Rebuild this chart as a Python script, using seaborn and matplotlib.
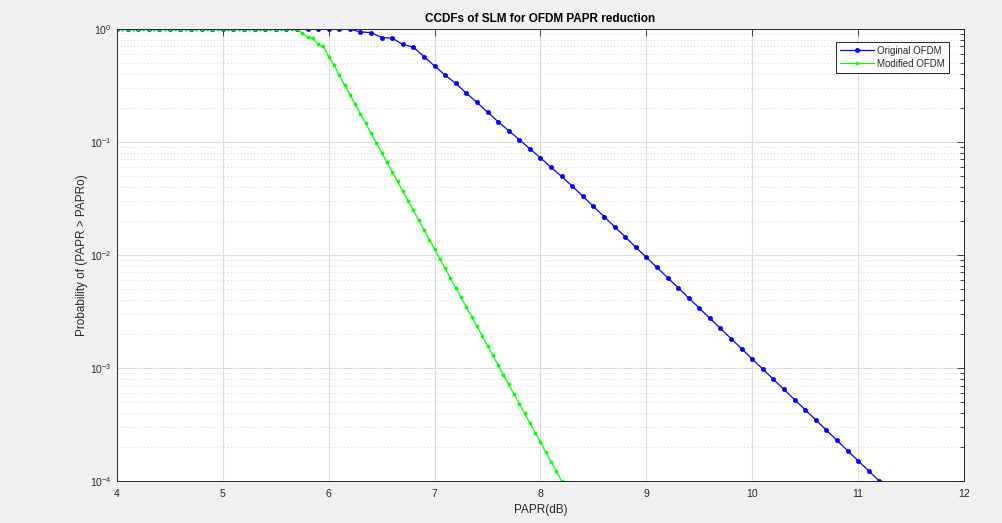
import numpy as np
import pandas as pd
import matplotlib
matplotlib.use("Agg")
import matplotlib.pyplot as plt
import seaborn as sns
from matplotlib.ticker import LogLocator, NullFormatter, FixedLocator

# ---------------- data ----------------
x_orig_start, x_orig_stop, x_orig_step = 4.0, 11.2, 0.1
x_mod_start, x_mod_stop, x_mod_step = 4.0, 8.2, 0.05

ccdf_original = [
    1.0, 1.0, 1.0, 1.0, 1.0, 1.0, 1.0, 1.0, 1.0, 1.0,
    1.0, 1.0, 1.0, 1.0, 1.0, 1.0, 1.0, 1.0, 1.0, 1.0,
    1.0, 1.0, 1.0,
    0.94, 0.93, 0.84, 0.83, 0.73, 0.69, 0.57, 0.47, 0.39, 0.33, 0.27,
    0.224, 0.184, 0.151, 0.126, 0.105, 0.0871, 0.0724, 0.0596, 0.0495, 0.0407,
    0.0331, 0.0269, 0.0219, 0.0178, 0.0145, 0.0117, 0.00955, 0.00776, 0.00631, 0.00513,
    0.00417, 0.00339, 0.00275, 0.00224, 0.00182, 0.00148, 0.00120, 0.000977, 0.000794, 0.000646,
    0.000525, 0.000427, 0.000347, 0.000282, 0.000229, 0.000186, 0.000151, 0.000123, 0.0001,
]

ccdf_modified = [
    1.0, 1.0, 1.0, 1.0, 1.0, 1.0, 1.0, 1.0, 1.0, 1.0,
    1.0, 1.0, 1.0, 1.0, 1.0, 1.0, 1.0, 1.0, 1.0, 1.0,
    1.0, 1.0, 1.0, 1.0, 1.0, 1.0, 1.0, 1.0, 1.0, 1.0,
    1.0, 1.0, 1.0, 1.0, 1.0,
    0.92, 0.85, 0.83, 0.73, 0.70, 0.57, 0.48, 0.39,
    0.320, 0.263, 0.216, 0.177, 0.146, 0.120, 0.0983, 0.0807, 0.0663, 0.0545,
    0.0447, 0.0367, 0.0302, 0.0248, 0.0203, 0.0167, 0.0137, 0.0113, 0.00926, 0.00760,
    0.00624, 0.00513, 0.00421, 0.00346, 0.00284, 0.00233, 0.00192, 0.00157, 0.00129, 0.00106,
    0.000872, 0.000716, 0.000588, 0.000483, 0.000397, 0.000326, 0.000268, 0.000220, 0.000180, 0.000148,
    0.000122, 0.0001,
]

series_labels = ["Original OFDM", "Modified OFDM"]
x_ticks = [4, 5, 6, 7, 8, 9, 10, 11, 12]
y_ticks = [1e-4, 1e-3, 1e-2, 1e-1, 1e0]
title_text = "CCDFs of SLM for OFDM PAPR reduction"
xlabel_text = "PAPR(dB)"
ylabel_text = "Probability of (PAPR > PAPRo)"

x_orig = np.round(np.arange(len(ccdf_original)) * x_orig_step + x_orig_start, 3)
x_mod = np.round(np.arange(len(ccdf_modified)) * x_mod_step + x_mod_start, 3)

df_orig = pd.DataFrame({"papr": x_orig, "ccdf": ccdf_original})
df_mod = pd.DataFrame({"papr": x_mod, "ccdf": ccdf_modified})

# ---------------- style ----------------
sns.set_style("white")
plt.rcParams["font.family"] = ["Liberation Sans", "DejaVu Sans"]
plt.rcParams["mathtext.fontset"] = "custom"
plt.rcParams["mathtext.rm"] = "Liberation Sans"
plt.rcParams["mathtext.it"] = "Liberation Sans"
plt.rcParams["axes.unicode_minus"] = False

axcol = "#262626"

fig = plt.figure(figsize=(10.03, 5.23), dpi=100, facecolor="#f0f0f0")
ax = fig.add_axes([0.1166, 0.0803, 0.8445, 0.8643])
ax.set_facecolor("white")

sns.lineplot(data=df_orig, x="papr", y="ccdf", ax=ax, color=(0, 0, 1),
             marker="o", markersize=3.0, markeredgewidth=0.5, markeredgecolor=(0, 0, 1),
             linewidth=0.9, label=series_labels[0], sort=False, estimator=None)
sns.lineplot(data=df_mod, x="papr", y="ccdf", ax=ax, color=(0, 1, 0),
             marker="o", markersize=2.2, markeredgewidth=0.5, markeredgecolor=(0, 1, 0),
             linewidth=0.9, label=series_labels[1], sort=False, estimator=None)

ax.set_yscale("log")
ax.set_xlim(4, 12)
ax.set_ylim(1e-4, 1)

ax.xaxis.set_major_locator(FixedLocator(x_ticks))
ax.yaxis.set_major_locator(FixedLocator(y_ticks))
ax.yaxis.set_minor_locator(LogLocator(base=10, subs=np.arange(2, 10), numticks=20))
ax.yaxis.set_minor_formatter(NullFormatter())

ax.grid(True, which="major", axis="both", color="#dcdcdc", linewidth=0.8, linestyle="-")
ax.grid(True, which="minor", axis="y", color="#c8c8c8", linewidth=0.6, linestyle=(0, (1, 3)))
ax.set_axisbelow(True)

ax.tick_params(which="both", direction="in", top=True, right=True,
               colors=axcol, labelsize=7.5, width=0.6)
ax.tick_params(which="major", length=5)
ax.tick_params(axis="x", which="major", pad=6)
ax.tick_params(axis="y", which="major", pad=4)
ax.tick_params(which="minor", length=3)
for sp in ax.spines.values():
    sp.set_color(axcol)
    sp.set_linewidth(0.7)

ax.set_title(title_text, fontsize=8.5, fontweight="bold", color="black", pad=5)
ax.set_xlabel(xlabel_text, fontsize=8.5, color=axcol, labelpad=3)
ax.set_ylabel(ylabel_text, fontsize=8.5, color=axcol)
ax.yaxis.set_label_coords(-0.034, 0.5)

leg = ax.legend(loc="upper right", fontsize=7, frameon=True, fancybox=False,
                borderpad=0.4, handlelength=3.5, handletextpad=0.3,
                labelspacing=0.3, bbox_to_anchor=(0.988, 0.982))
leg.get_frame().set_edgecolor("black")
leg.get_frame().set_linewidth(0.6)
leg.get_frame().set_alpha(1)

fig.savefig("out.png", dpi=100, facecolor=fig.get_facecolor())
